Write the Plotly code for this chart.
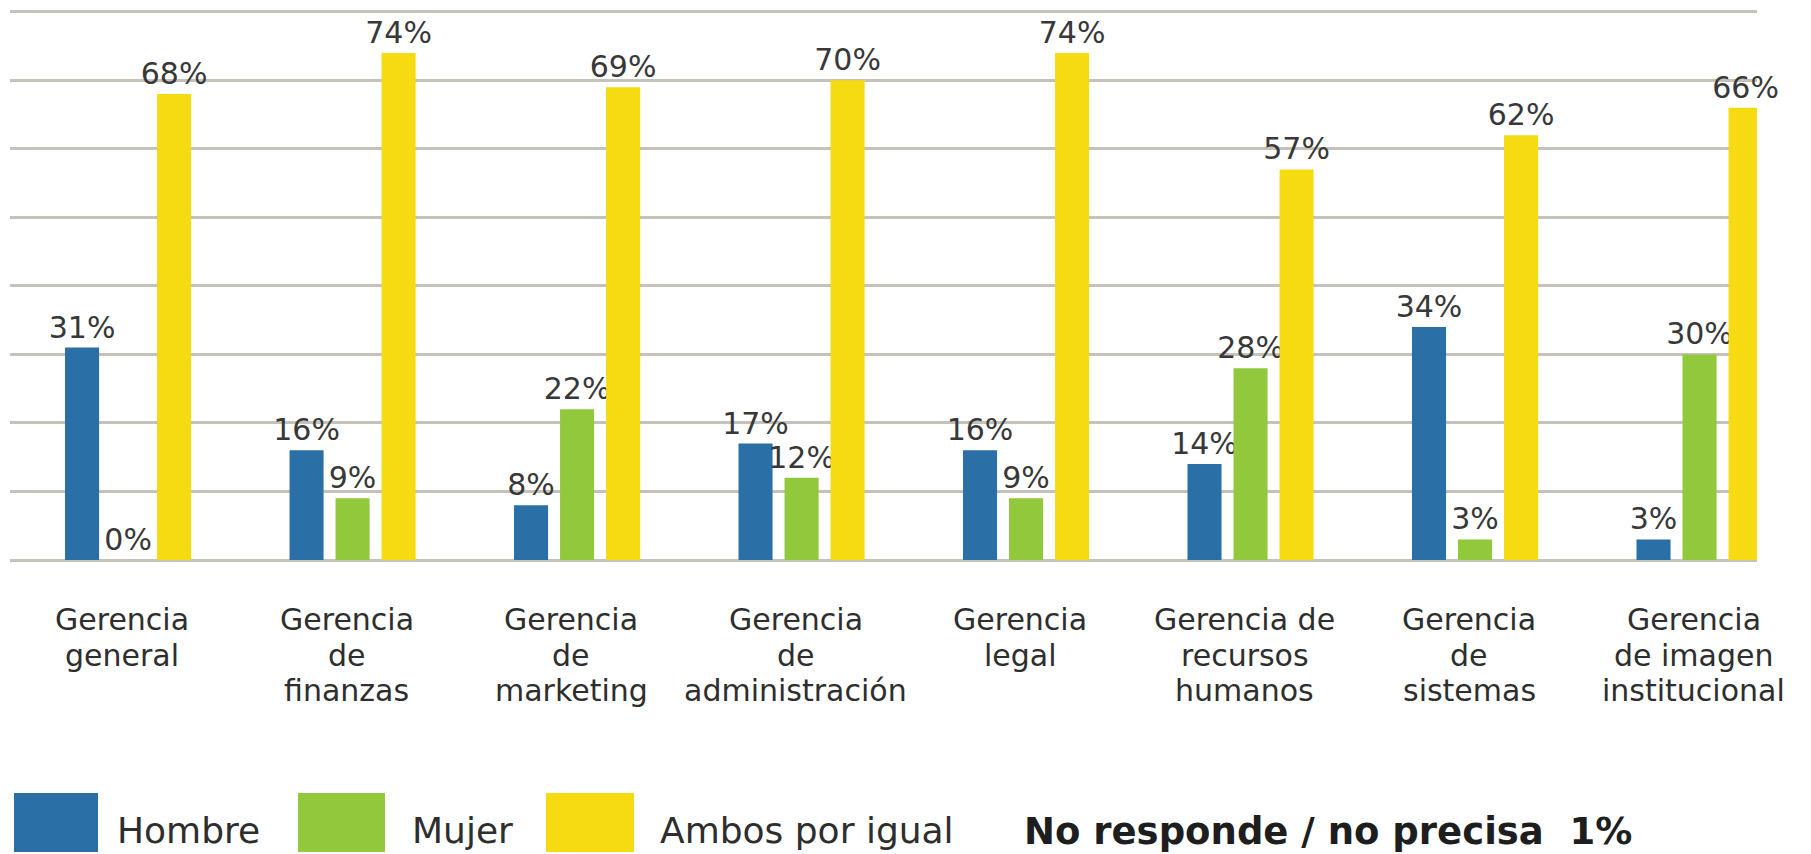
import plotly.graph_objects as go

# Survey: who should lead each management area
categories = [
    "Gerencia general",
    "Gerencia de finanzas",
    "Gerencia de marketing",
    "Gerencia de administración",
    "Gerencia legal",
    "Gerencia de recursos humanos",
    "Gerencia de sistemas",
    "Gerencia de imagen institucional",
]
tick_labels = [
    ["Gerencia", "general"],
    ["Gerencia", "de", "finanzas"],
    ["Gerencia", "de", "marketing"],
    ["Gerencia", "de", "administración"],
    ["Gerencia", "legal"],
    ["Gerencia de", "recursos", "humanos"],
    ["Gerencia", "de", "sistemas"],
    ["Gerencia", "de imagen", "institucional"],
]
series_names = ["Hombre", "Mujer", "Ambos por igual"]
hombre = [31, 16, 8, 17, 16, 14, 34, 3]
mujer = [0, 9, 22, 12, 9, 28, 3, 30]
ambos = [68, 74, 69, 70, 74, 57, 62, 66]
note_text = "No responde / no precisa  1%"

colors = ["#2a6fa6", "#92c83c", "#f6da12"]
grid_color = "#c6c1b9"

W, H = 1811, 854
M_L, M_R, M_T, M_B = 10, 54, 5, 294
PLOT_W = W - M_L - M_R
PLOT_H = H - M_T - M_B


def px_x(px):
    return (px - M_L) / PLOT_W


def px_y(py):
    return (H - M_B - py) / PLOT_H


fig = go.Figure()
for name, vals, col in zip(series_names, [hombre, mujer, ambos], colors):
    fig.add_trace(go.Bar(
        x=categories,
        y=vals,
        name=name,
        marker=dict(color=col, line=dict(width=0)),
        text=[f"{v}%" for v in vals],
        textposition="outside",
        constraintext="none",
        cliponaxis=False,
        textfont=dict(family="DejaVu Sans", size=30, color="#383838"),
        showlegend=False,
    ))

annotations = []
# category labels, one annotation per line for tight line spacing
LINE_STEP = 35.5
for cat, lines in zip(categories, tick_labels):
    for j, line in enumerate(lines):
        annotations.append(dict(
            x=cat, xref="x", y=0, yref="y",
            yanchor="top", xanchor="center",
            xshift=-6, yshift=-40 - LINE_STEP * j,
            text=line, showarrow=False,
            font=dict(family="DejaVu Sans", size=30, color="#2e2e2e"),
        ))

# legend: large swatches with labels
shapes = []
swatch_x = [(14, 98), (298, 385), (546, 634)]
label_x = [115, 410, 658]
for (x0, x1), lx, name, col in zip(swatch_x, label_x, series_names, colors):
    shapes.append(dict(
        type="rect", xref="paper", yref="paper",
        x0=px_x(x0), x1=px_x(x1), y0=px_y(852), y1=px_y(793),
        fillcolor=col, line=dict(width=0), layer="above",
    ))
    annotations.append(dict(
        x=px_x(lx), xref="paper", y=px_y(808), yref="paper",
        xanchor="left", yanchor="top",
        text=name, showarrow=False,
        font=dict(family="DejaVu Sans", size=36, color="#2e2e2e"),
    ))
annotations.append(dict(
    x=px_x(1022), xref="paper", y=px_y(808), yref="paper",
    xanchor="left", yanchor="top",
    text=f"<b>{note_text}</b>", showarrow=False,
    font=dict(family="DejaVu Sans", size=37, color="#1e1e1e"),
))

fig.update_layout(
    width=W, height=H,
    margin=dict(l=M_L, r=M_R, t=M_T, b=M_B),
    paper_bgcolor="white", plot_bgcolor="white",
    barmode="group", bargap=0.385, bargroupgap=0.26,
    xaxis=dict(range=[-0.526, 7.256], showticklabels=False, showgrid=False,
               zeroline=False, showline=False, ticks=""),
    yaxis=dict(range=[0, 81], tickvals=[0, 10, 20, 30, 40, 50, 60, 70, 80],
               showticklabels=False, showgrid=True,
               gridcolor=grid_color, gridwidth=2.5, zeroline=True,
               zerolinecolor=grid_color, zerolinewidth=2.5, showline=False, ticks=""),
    annotations=annotations,
    shapes=shapes,
)

fig.write_html("out.html")
